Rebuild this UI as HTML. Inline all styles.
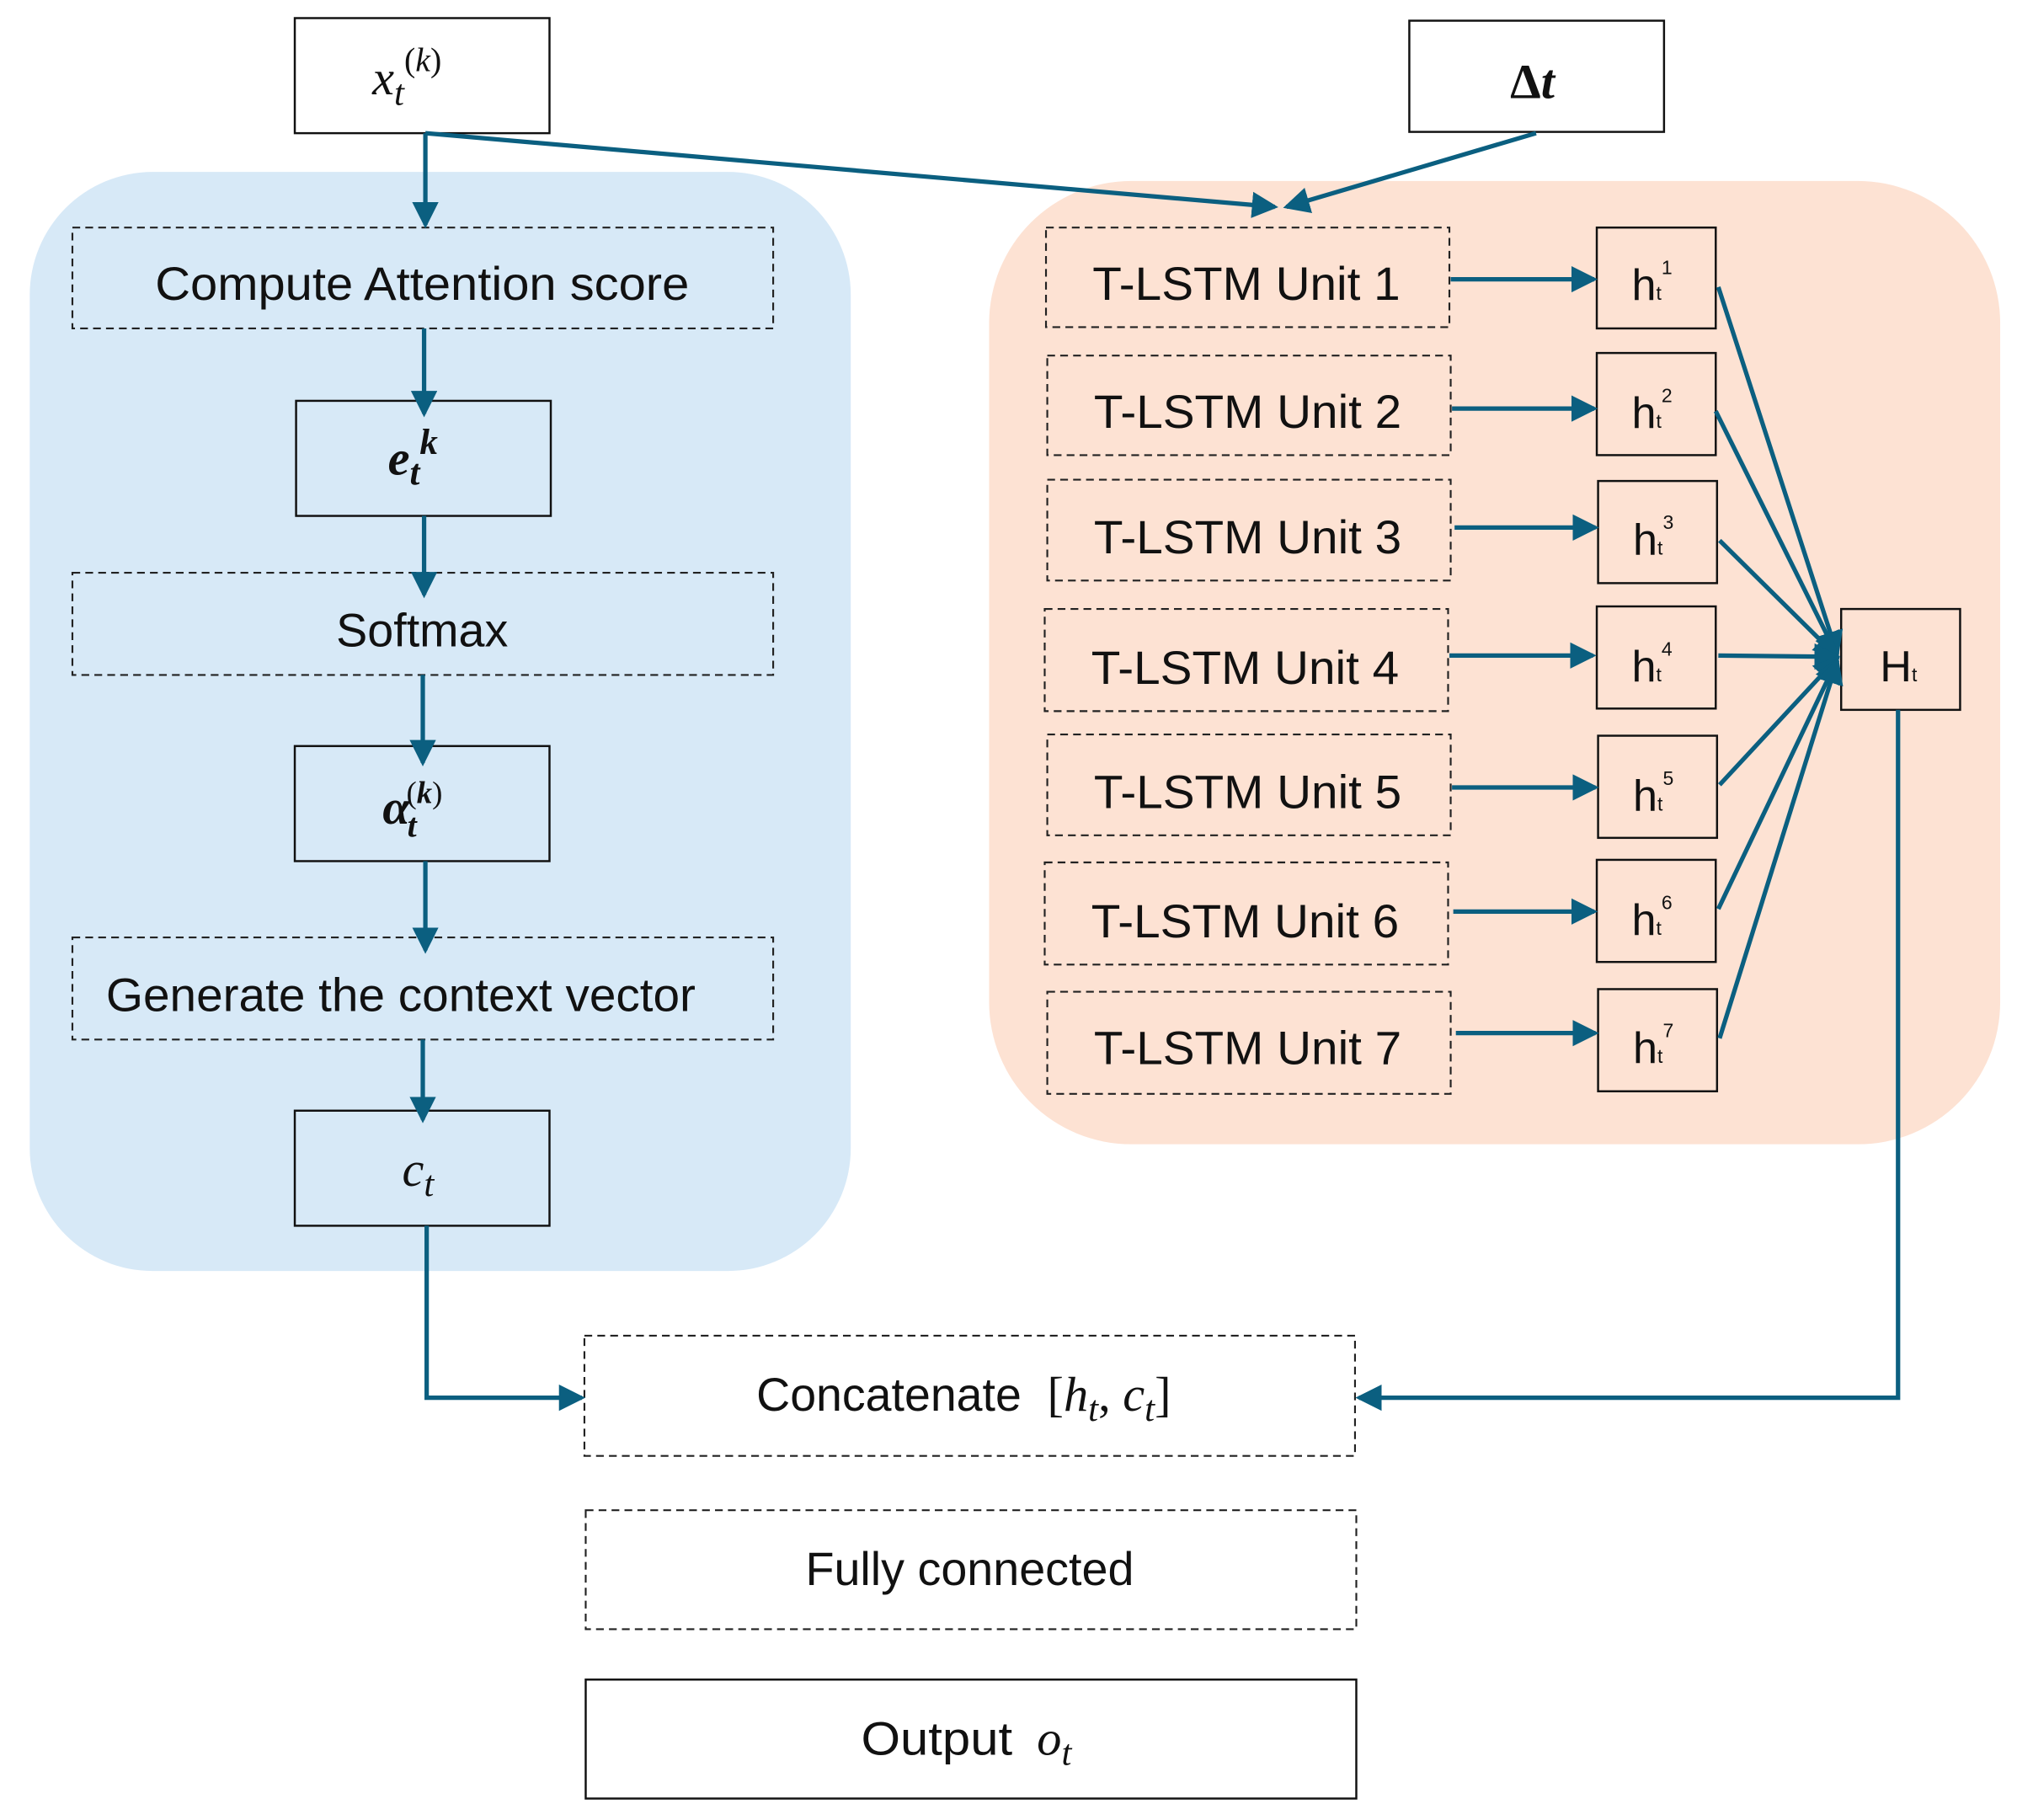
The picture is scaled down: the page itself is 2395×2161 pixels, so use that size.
<!DOCTYPE html>
<html><head><meta charset="utf-8"><style>html,body{margin:0;padding:0;background:#fff}svg{display:block}</style></head>
<body>
<svg width="2395" height="2161" viewBox="0 0 1560 1407.6" preserveAspectRatio="none" xmlns="http://www.w3.org/2000/svg">
<defs>
<marker id="a" markerWidth="6" markerHeight="6" refX="5.2" refY="3" orient="auto" markerUnits="strokeWidth"><path d="M0,0 L6,3 L0,6 z" fill="#0b5f80"/></marker>
</defs>
<rect x="0" y="0" width="1560" height="1408" fill="#fff"/>
<rect x="23" y="133" width="635" height="850" rx="95" fill="#d7e9f7"/>
<rect x="765" y="140" width="782" height="745" rx="110" fill="#fde2d3"/>
<g fill="none" stroke="#111" stroke-width="1.6">
<rect x="228" y="14" width="197" height="89"/>
<rect x="1090" y="16" width="197" height="86"/>
<rect x="229" y="310" width="197" height="89"/>
<rect x="228" y="577" width="197" height="89"/>
<rect x="228" y="859" width="197" height="89"/>
<rect x="453" y="1299" width="596" height="92"/>
<rect x="1424" y="471" width="92" height="78"/>
<rect x="1235" y="176" width="92" height="78"/>
<rect x="1235" y="273" width="92" height="79"/>
<rect x="1236" y="372" width="92" height="79"/>
<rect x="1235" y="469" width="92" height="79"/>
<rect x="1236" y="569" width="92" height="79"/>
<rect x="1235" y="665" width="92" height="79"/>
<rect x="1236" y="765" width="92" height="79"/>
</g>
<g fill="none" stroke="#222" stroke-width="1.4" stroke-dasharray="6,4">
<rect x="56" y="176" width="542" height="78"/>
<rect x="56" y="443" width="542" height="79"/>
<rect x="56" y="725" width="542" height="79"/>
<rect x="452" y="1033" width="596" height="93"/>
<rect x="453" y="1168" width="596" height="92"/>
<rect x="809" y="176" width="312" height="77"/>
<rect x="810" y="275" width="312" height="77"/>
<rect x="810" y="371" width="312" height="78"/>
<rect x="808" y="471" width="312" height="79"/>
<rect x="810" y="568" width="312" height="78"/>
<rect x="808" y="667" width="312" height="79"/>
<rect x="810" y="767" width="312" height="79"/>
</g>
<g stroke="#0b5f80" stroke-width="3.4" fill="none" marker-end="url(#a)">
<line x1="329" y1="103" x2="329" y2="174"/>
<line x1="329" y1="103" x2="986" y2="160"/>
<line x1="1188" y1="103" x2="995" y2="160"/>
<line x1="328" y1="254" x2="328" y2="320"/>
<line x1="328" y1="399" x2="328" y2="460"/>
<line x1="327" y1="522" x2="327" y2="590"/>
<line x1="329" y1="666" x2="329" y2="735"/>
<line x1="327" y1="804" x2="327" y2="866"/>
<polyline points="330,948 330,1081 450,1081"/>
<polyline points="1468,549 1468,1081 1051,1081"/>
<line x1="1122" y1="216" x2="1233" y2="216"/>
<line x1="1123" y1="316" x2="1233" y2="316"/>
<line x1="1125" y1="408" x2="1234" y2="408"/>
<line x1="1121" y1="507" x2="1232" y2="507"/>
<line x1="1123" y1="609" x2="1234" y2="609"/>
<line x1="1124" y1="705" x2="1233" y2="705"/>
<line x1="1126" y1="799" x2="1234" y2="799"/>
<line x1="1329" y1="222" x2="1421" y2="506"/>
<line x1="1327" y1="318" x2="1421" y2="507"/>
<line x1="1330" y1="418" x2="1421" y2="508"/>
<line x1="1329" y1="507" x2="1421" y2="508"/>
<line x1="1330" y1="607" x2="1421" y2="509"/>
<line x1="1329" y1="703" x2="1421" y2="510"/>
<line x1="1330" y1="803" x2="1421" y2="511"/>
</g>
<g font-family="Liberation Sans, DejaVu Sans, sans-serif" font-size="36" fill="#111" text-anchor="start" lengthAdjust="spacingAndGlyphs">
<text x="120" y="232" textLength="413" lengthAdjust="spacingAndGlyphs">Compute Attention score</text>
<text x="260" y="500" textLength="133" lengthAdjust="spacingAndGlyphs">Softmax</text>
<text x="82" y="782" textLength="456" lengthAdjust="spacingAndGlyphs">Generate the context vector</text>
<text x="585" y="1091" textLength="205" lengthAdjust="spacingAndGlyphs">Concatenate</text>
<text x="623" y="1226" textLength="254" lengthAdjust="spacingAndGlyphs">Fully connected</text>
<text x="666" y="1357" textLength="117" lengthAdjust="spacingAndGlyphs">Output</text>
<text x="845" y="232" textLength="238" lengthAdjust="spacingAndGlyphs">T-LSTM Unit 1</text>
<text x="846" y="331" textLength="238" lengthAdjust="spacingAndGlyphs">T-LSTM Unit 2</text>
<text x="846" y="428" textLength="238" lengthAdjust="spacingAndGlyphs">T-LSTM Unit 3</text>
<text x="844" y="529" textLength="238" lengthAdjust="spacingAndGlyphs">T-LSTM Unit 4</text>
<text x="846" y="625" textLength="238" lengthAdjust="spacingAndGlyphs">T-LSTM Unit 5</text>
<text x="844" y="725" textLength="238" lengthAdjust="spacingAndGlyphs">T-LSTM Unit 6</text>
<text x="846" y="823" textLength="238" lengthAdjust="spacingAndGlyphs">T-LSTM Unit 7</text>
<g font-size="34">
<text x="1262" y="232">h<tspan font-size="15">t</tspan><tspan font-size="15" dy="-20">1</tspan></text>
<text x="1262" y="331">h<tspan font-size="15">t</tspan><tspan font-size="15" dy="-20">2</tspan></text>
<text x="1263" y="429">h<tspan font-size="15">t</tspan><tspan font-size="15" dy="-20">3</tspan></text>
<text x="1262" y="527">h<tspan font-size="15">t</tspan><tspan font-size="15" dy="-20">4</tspan></text>
<text x="1263" y="627">h<tspan font-size="15">t</tspan><tspan font-size="15" dy="-20">5</tspan></text>
<text x="1262" y="723">h<tspan font-size="15">t</tspan><tspan font-size="15" dy="-20">6</tspan></text>
<text x="1263" y="822">h<tspan font-size="15">t</tspan><tspan font-size="15" dy="-20">7</tspan></text>
<text x="1454" y="527">H<tspan font-size="15">t</tspan></text>
</g>
</g>
<g font-family="Liberation Serif, DejaVu Serif, serif" font-style="italic" font-size="38" fill="#111" text-anchor="start">
<text x="288" y="73">x<tspan font-size="28" dy="8">t</tspan><tspan font-size="26" dy="-26" font-style="normal">(</tspan><tspan font-size="26">k</tspan><tspan font-size="26" font-style="normal">)</tspan></text>
<text x="1168" y="76" font-weight="bold"><tspan font-style="normal">Δ</tspan>t</text>
<text x="300" y="367" font-weight="bold">e<tspan font-size="28" dy="8">t</tspan><tspan font-size="28" dy="-24">k</tspan></text>
<text x="296" y="637" font-weight="bold">α<tspan font-size="26" dx="-2" dy="10">t</tspan><tspan font-size="24" dx="-8" dy="-26" font-style="normal" font-weight="normal">(</tspan><tspan font-size="24">k</tspan><tspan font-size="24" font-style="normal" font-weight="normal">)</tspan></text>
<text x="311" y="917">c<tspan font-size="28" dy="8">t</tspan></text>
<text x="810" y="1091"><tspan font-style="normal">[</tspan>h<tspan font-size="28" dy="8">t</tspan><tspan dy="-8" font-style="normal">, </tspan>c<tspan font-size="28" dy="8">t</tspan><tspan dy="-8" font-style="normal">]</tspan></text>
<text x="802" y="1357">o<tspan font-size="28" dy="8">t</tspan></text>
</g>
</svg>
</body></html>
